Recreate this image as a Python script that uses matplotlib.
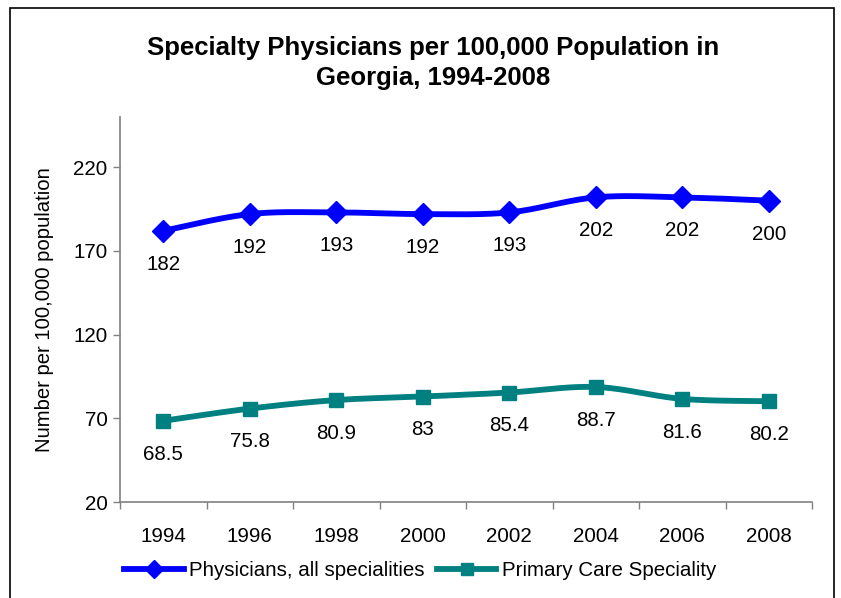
import numpy as np
import matplotlib
matplotlib.use("Agg")
import matplotlib.pyplot as plt
from matplotlib.patches import Rectangle
from matplotlib.lines import Line2D

plt.rcParams['font.family'] = ['Liberation Sans', 'DejaVu Sans']

years = ["1994", "1996", "1998", "2000", "2002", "2004", "2006", "2008"]
all_specialities = [182, 192, 193, 192, 193, 202, 202, 200]
primary_care = [68.5, 75.8, 80.9, 83, 85.4, 88.7, 81.6, 80.2]
all_labels = ["182", "192", "193", "192", "193", "202", "202", "200"]
primary_labels = ["68.5", "75.8", "80.9", "83", "85.4", "88.7", "81.6", "80.2"]

BLUE = "#0000FF"
TEAL = "#008080"


def smooth(xs, ys, steps=30):
    """Catmull-Rom curve through the points (spreadsheet-style smoothed line)."""
    p = np.column_stack([xs, ys]).astype(float)
    n = len(p)
    out = []
    for i in range(n - 1):
        p0 = p[i - 1] if i > 0 else p[i]
        p1, p2 = p[i], p[i + 1]
        p3 = p[i + 2] if i + 2 < n else p[i + 1]
        c1 = p1 + (p2 - p0) / 6.0
        c2 = p2 - (p3 - p1) / 6.0
        t = np.linspace(0, 1, steps)[:, None]
        seg = ((1 - t) ** 3) * p1 + 3 * ((1 - t) ** 2) * t * c1 + 3 * (1 - t) * t ** 2 * c2 + t ** 3 * p2
        out.append(seg if i == 0 else seg[1:])
    pts = np.vstack(out)
    return pts[:, 0], pts[:, 1]


W, H = 841, 598
fig = plt.figure(figsize=(W / 100, H / 100), dpi=100)

# outer chart frame
fig.patches.append(Rectangle((10 / W, -0.05), (834 - 10) / W, 1.05 - 8 / H,
                             transform=fig.transFigure, fill=False,
                             edgecolor="#000000", linewidth=1.2, zorder=0))

ax = fig.add_axes([120 / W, (H - 502) / H, (812 - 120) / W, (502 - 117) / H])
x = np.arange(len(years))

FS = 14.8

for vals, labels, color, marker, ms, name in [
    (all_specialities, all_labels, BLUE, "D", 11, "Physicians, all specialities"),
    (primary_care, primary_labels, TEAL, "s", 9.5, "Primary Care Speciality"),
]:
    sx, sy = smooth(x, vals)
    ax.plot(sx, sy, color=color, linewidth=4.2, solid_capstyle="round", zorder=2)
    ax.plot(x, vals, linestyle="none", marker=marker, markersize=ms,
            color=color, zorder=3)
    for xi, v, lab in zip(x, vals, labels):
        ax.annotate(lab, (xi, v), xytext=(0, -24), textcoords="offset points",
                    ha="center", va="center", fontsize=FS, color="black")

ax.set_xlim(-0.5, len(years) - 0.5)
ax.set_ylim(20, 250)
ax.set_yticks([20, 70, 120, 170, 220])
ax.tick_params(axis="y", direction="out", length=5, width=1, color="#808080",
               labelsize=FS, pad=4)
ax.set_xticks(x)
ax.set_xticklabels(years)
ax.set_xticks(np.arange(-0.5, len(years)), minor=True)
ax.tick_params(axis="x", which="major", length=0, labelsize=FS, pad=18)
ax.tick_params(axis="x", which="minor", direction="out", length=5, width=1,
               color="#808080")
for s in ["top", "right"]:
    ax.spines[s].set_visible(False)
for s in ["left", "bottom"]:
    ax.spines[s].set_color("#808080")
    ax.spines[s].set_linewidth(1.2)

ax.set_ylabel("Number per 100,000 population", fontsize=14.6, labelpad=14)

fig.text(433 / W, 1 - 63 / H, "Specialty Physicians per 100,000 Population in\nGeorgia, 1994-2008",
         ha="center", va="center", fontsize=18.5, fontweight="bold", linespacing=1.33)

handles = [
    Line2D([], [], color=BLUE, linewidth=4.2, marker="D", markersize=9),
    Line2D([], [], color=TEAL, linewidth=4.2, marker="s", markersize=8),
]
fig.legend(handles, ["Physicians, all specialities", "Primary Care Speciality"],
           loc="center", bbox_to_anchor=(420 / W, 1 - 571 / H), ncol=2,
           frameon=False, fontsize=FS, handlelength=2.9, handletextpad=0.25,
           columnspacing=0.6, borderaxespad=0)

fig.savefig("out.png", dpi=100)
